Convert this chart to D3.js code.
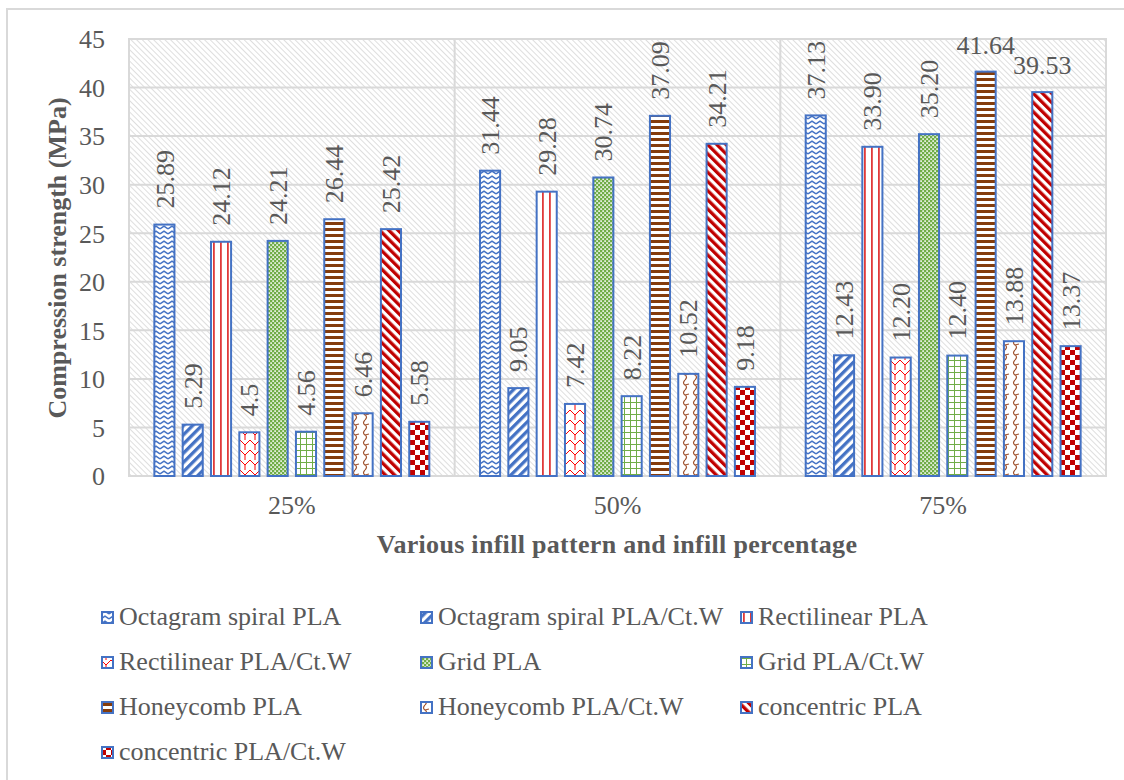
<!DOCTYPE html>
<html>
<head>
<meta charset="utf-8">
<script src="https://cdn.jsdelivr.net/npm/d3@7"></script>
<style>
  body { margin: 0; background: #fff; }
  text { font-family: "Liberation Serif", "Times New Roman", serif; fill: #595959; }
</style>
</head>
<body>
<div id="chart"></div>
<script>
var categories = ["25%", "50%", "75%"];
var seriesNames = [
    "Octagram spiral PLA", "Octagram spiral PLA/Ct.W",
    "Rectilinear PLA", "Rectilinear PLA/Ct.W",
    "Grid PLA", "Grid PLA/Ct.W",
    "Honeycomb PLA", "Honeycomb PLA/Ct.W",
    "concentric PLA", "concentric PLA/Ct.W"
];
var values25 = [25.89, 5.29, 24.12, 4.5, 24.21, 4.56, 26.44, 6.46, 25.42, 5.58];
var values50 = [31.44, 9.05, 29.28, 7.42, 30.74, 8.22, 37.09, 10.52, 34.21, 9.18];
var values75 = [37.13, 12.43, 33.90, 12.20, 35.20, 12.40, 41.64, 13.88, 39.53, 13.37];
var labels25 = ["25.89", "5.29", "24.12", "4.5", "24.21", "4.56", "26.44", "6.46", "25.42", "5.58"];
var labels50 = ["31.44", "9.05", "29.28", "7.42", "30.74", "8.22", "37.09", "10.52", "34.21", "9.18"];
var labels75 = ["37.13", "12.43", "33.90", "12.20", "35.20", "12.40", "41.64", "13.88", "39.53", "13.37"];
var yTicks = [0, 5, 10, 15, 20, 25, 30, 35, 40, 45];

var width = 1124, height = 780;
var plot = {left: 129, right: 1106, top: 39, bottom: 476};
var blue = "#4472C4", green = "#70AD47", brown = "#843C0C", darkRed = "#C00000";

var svg = d3.select("#chart").append("svg")
    .attr("width", width).attr("height", height);
var defs = svg.append("defs");

// one pattern per series, plus the plot background hatch
function makePattern(id, w, h, bg, rotate){
    var p = defs.append("pattern").attr("id", id)
        .attr("patternUnits", "userSpaceOnUse")
        .attr("width", w).attr("height", h);
    if (rotate) p.attr("patternTransform", "rotate(" + rotate + ")");
    p.append("rect").attr("width", w).attr("height", h).attr("fill", bg);
    return p;
}

var p;
p = makePattern("pat0", 8, 5, "#fff");
p.append("path").attr("d", "M0,4 L4,1.2 L8,4").attr("fill", "none").attr("stroke", blue).attr("stroke-width", 1.5);
p = makePattern("pat1", 6.5, 6.5, "#fff", 45);
p.append("rect").attr("width", 3.3).attr("height", 6.5).attr("fill", blue);
p = makePattern("pat2", 7, 4, "#fff");
p.append("rect").attr("x", 3).attr("width", 1.8).attr("height", 4).attr("fill", "#E03A3A");
p = makePattern("pat3", 10, 10, "#fff");
p.append("path").attr("d", "M0,0 L5,5 L10,0 M5,5 L5,10").attr("fill", "none").attr("stroke", "#FF0000").attr("stroke-width", 1);
p = makePattern("pat4", 4, 4, green);
p.append("rect").attr("x", 0.3).attr("y", 0.3).attr("width", 1.6).attr("height", 1.6).attr("fill", "#fff");
p.append("rect").attr("x", 2.3).attr("y", 2.3).attr("width", 1.6).attr("height", 1.6).attr("fill", "#fff");
p = makePattern("pat5", 6, 6, "#fff");
p.append("path").attr("d", "M0,0.5 H6 M0.5,0 V6").attr("stroke", green).attr("stroke-width", 1);
p = makePattern("pat6", 4, 6, "#fff");
p.append("rect").attr("width", 4).attr("height", 3).attr("fill", brown);
p = makePattern("pat7", 10, 10, "#fff");
p.append("path").attr("d", "M5,0 Q2,3 5,5 Q8,7 5,10 M5,5 L9,4").attr("fill", "none").attr("stroke", "#A0522D").attr("stroke-width", 1.2);
p = makePattern("pat8", 6.5, 6.5, "#fff", -45);
p.append("rect").attr("width", 3.3).attr("height", 6.5).attr("fill", darkRed);
p = makePattern("pat9", 10, 10, "#fff");
p.append("rect").attr("width", 5).attr("height", 5).attr("fill", darkRed);
p.append("rect").attr("x", 5).attr("y", 5).attr("width", 5).attr("height", 5).attr("fill", darkRed);
p = makePattern("hatch", 4, 4, "#fff", -45);
p.append("rect").attr("width", 1).attr("height", 4).attr("fill", "#dedede");

// outer chart border
svg.append("rect").attr("x", 7).attr("y", 9).attr("width", 1140).attr("height", 800)
    .attr("fill", "none").attr("stroke", "#d9d9d9").attr("stroke-width", 2);

// Scales
var x0 = d3.scaleBand().domain(categories).range([plot.left, plot.right]).padding(0);
var x1 = d3.scaleBand().domain(d3.range(seriesNames.length))
    .range([0, x0.bandwidth()]).paddingInner(0.22).paddingOuter(0.86);
var y = d3.scaleLinear().domain([0, 45]).range([plot.bottom, plot.top]);

// Plot area
svg.append("rect").attr("x", plot.left).attr("y", plot.top)
    .attr("width", plot.right - plot.left).attr("height", plot.bottom - plot.top)
    .attr("fill", "url(#hatch)");

svg.append("g").selectAll("line").data(yTicks).enter().append("line")
    .attr("x1", plot.left).attr("x2", plot.right)
    .attr("y1", function(d){ return y(d); }).attr("y2", function(d){ return y(d); })
    .attr("stroke", "#d9d9d9").attr("stroke-width", 2);

svg.append("g").selectAll("line").data(categories.slice(1)).enter().append("line")
    .attr("x1", function(d){ return x0(d); }).attr("x2", function(d){ return x0(d); })
    .attr("y1", plot.top).attr("y2", plot.bottom)
    .attr("stroke", "#d9d9d9").attr("stroke-width", 2);

svg.append("rect").attr("x", plot.left).attr("y", plot.top)
    .attr("width", plot.right - plot.left).attr("height", plot.bottom - plot.top)
    .attr("fill", "none").attr("stroke", "#d9d9d9").attr("stroke-width", 2);

// Axes
var yAxis = svg.append("g").attr("transform", "translate(" + (plot.left - 24) + ",0)")
    .call(d3.axisLeft(y).tickValues(yTicks).tickSize(0).tickPadding(0));
yAxis.select(".domain").remove();
yAxis.selectAll("text").attr("font-size", 26).attr("fill", "#595959")
    .attr("font-family", "Liberation Serif").attr("dy", "0.34em");

var xAxis = svg.append("g").attr("transform", "translate(0," + plot.bottom + ")")
    .call(d3.axisBottom(x0).tickSize(0).tickPadding(20));
xAxis.select(".domain").remove();
xAxis.selectAll("text").attr("font-size", 26).attr("fill", "#595959")
    .attr("font-family", "Liberation Serif");

// Bars
var rows = [];
var allValues = [values25, values50, values75];
var allLabels = [labels25, labels50, labels75];
categories.forEach(function(c, ci){
    allValues[ci].forEach(function(v, si){
        rows.push({cat: c, s: si, v: v, label: allLabels[ci][si]});
    });
});

svg.append("g").selectAll("rect").data(rows).enter().append("rect")
    .attr("x", function(d){ return x0(d.cat) + x1(d.s) + 1; })
    .attr("y", function(d){ return y(d.v); })
    .attr("width", x1.bandwidth() - 2)
    .attr("height", function(d){ return plot.bottom - y(d.v); })
    .attr("fill", function(d){ return "url(#pat" + d.s + ")"; })
    .attr("stroke", blue).attr("stroke-width", 2);

// Data labels: rotated, unless they would run out of the top
var labelG = svg.append("g");
rows.forEach(function(d){
    var cx = x0(d.cat) + x1(d.s) + x1.bandwidth() / 2;
    var top = y(d.v);
    var t = labelG.append("text").attr("font-size", 26).attr("fill", "#595959").text(d.label);
    var len = t.node().getComputedTextLength();
    if (top - 16 - len < 25) {
        t.attr("x", cx).attr("y", top - 18).attr("text-anchor", "middle");
    } else {
        t.attr("transform", "translate(" + cx + "," + (top - 16) + ") rotate(-90)")
            .attr("dy", "0.35em");
    }
});

// Axis titles
svg.append("text").attr("x", 617).attr("y", 553).attr("text-anchor", "middle")
    .attr("font-size", 26).attr("font-weight", "bold").attr("letter-spacing", 0.3)
    .text("Various infill pattern and infill percentage");
svg.append("text").attr("transform", "translate(66,258) rotate(-90)")
    .attr("text-anchor", "middle").attr("font-size", 26).attr("font-weight", "bold")
    .text("Compression strength (MPa)");

// Legend
var legendX = [101, 420, 740];
var legendY = [625, 670, 715, 760];
var legend = svg.append("g").selectAll("g").data(seriesNames).enter().append("g")
    .attr("transform", function(d, i){ return "translate(" + legendX[i % 3] + "," + legendY[Math.floor(i / 3)] + ")"; });
legend.append("rect").attr("x", 1).attr("y", -13).attr("width", 11).attr("height", 11)
    .attr("fill", function(d, i){ return "url(#pat" + i + ")"; })
    .attr("stroke", blue).attr("stroke-width", 2);
legend.append("text").attr("x", 18).attr("y", 0).attr("font-size", 26).text(function(d){ return d; });
</script>
</body>
</html>
